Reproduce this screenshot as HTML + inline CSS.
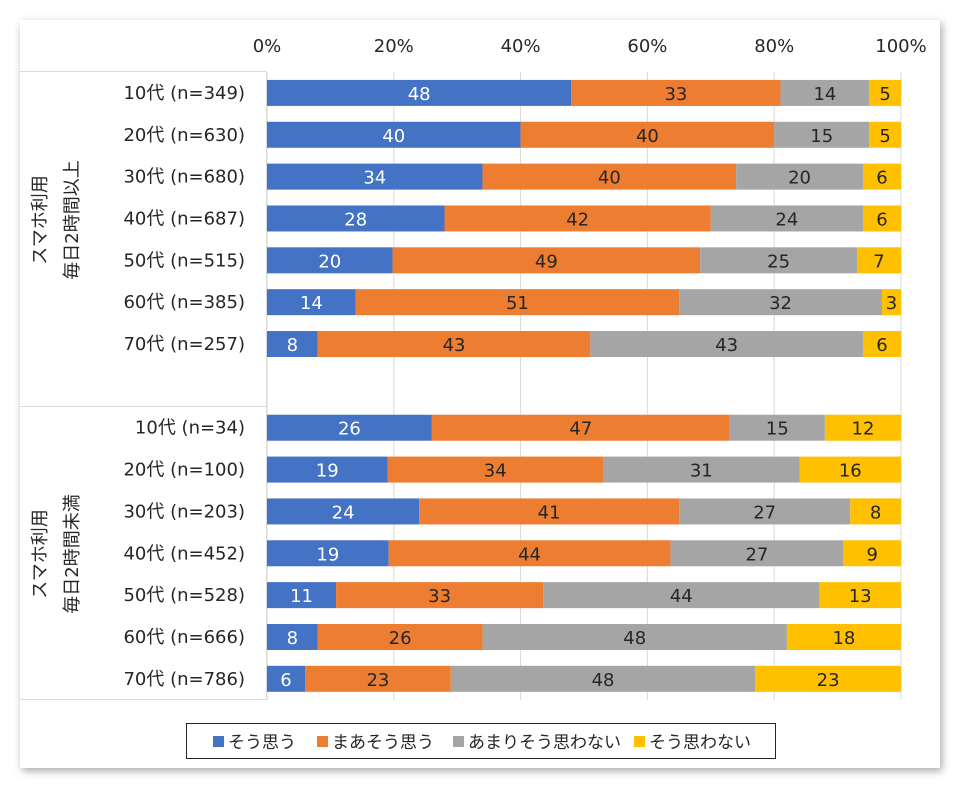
<!DOCTYPE html>
<html><head><meta charset="utf-8">
<style>
body{margin:0;background:#fff;font-family:"DejaVu Sans","Noto Sans CJK JP",sans-serif;}
#frame{position:absolute;left:20px;top:20px;width:920px;height:748px;background:#fff;box-shadow:2px 3px 8px rgba(0,0,0,0.35);}
svg{position:absolute;left:0;top:0;font-family:"DejaVu Sans","Noto Sans CJK JP",sans-serif;}
</style></head><body>
<div id="frame"></div>
<svg id="chart" width="960" height="790"></svg>
<script>
const categories=["10代 (n=349)","20代 (n=630)","30代 (n=680)","40代 (n=687)","50代 (n=515)","60代 (n=385)","70代 (n=257)",null,"10代 (n=34)","20代 (n=100)","30代 (n=203)","40代 (n=452)","50代 (n=528)","60代 (n=666)","70代 (n=786)"];
const seriesNames=["そう思う","まあそう思う","あまりそう思わない","そう思わない"];
const s1=[48,40,34,28,20,14,8,null,26,19,24,19,11,8,6];
const s2=[33,40,40,42,49,51,43,null,47,34,41,44,33,26,23];
const s3=[14,15,20,24,25,32,43,null,15,31,27,27,44,48,48];
const s4=[5,5,6,6,7,3,6,null,12,16,8,9,13,18,23];
const ticks=[0,20,40,60,80,100];
const colors=["#4472c4","#ed7d31","#a5a5a5","#ffc000"];
const labelColors=["#fff","#262626","#262626","#262626"];
const NS="http://www.w3.org/2000/svg";
const svg=document.getElementById('chart');
const x0=267,x1=901,top0=72,rowH=41.85,barH=26;
const xs=v=>x0+(x1-x0)*v/100;
const yc=i=>top0+rowH*(i+0.5);
function mk(t,a,p){const e=document.createElementNS(NS,t);for(const k in a)e.setAttribute(k,a[k]);(p||svg).appendChild(e);return e;}
ticks.forEach(t=>{
 const g=mk('line',{x1:xs(t),x2:xs(t),y1:72,y2:700,stroke:'#d9d9d9','stroke-width':1});
 
 
 const tx=mk('text',{x:xs(t),y:52,'text-anchor':'middle','font-size':18,fill:'#262626'});
 tx.textContent=t+'%';
 
 
});
[[20,71.5,266.5,71.5],[20,406.5,266.5,406.5],[20,699.5,266.5,699.5],[266.5,71.5,266.5,699.5]].forEach(l=>{
 const e=mk('line',{x1:l[0],y1:l[1],x2:l[2],y2:l[3],stroke:'#d9d9d9','stroke-width':1});
 
 
});
const series=[s1,s2,s3,s4];
categories.forEach((c,i)=>{
 if(c===null)return;
 const lab=mk('text',{x:245,y:yc(i)+6,'text-anchor':'end','font-size':18,fill:'#262626'});
 lab.textContent=c;
 
 
 const tot=series.reduce((a,s)=>a+s[i],0);
 let acc=0;
 series.forEach((s,k)=>{
  const v=s[i]*100/tot;
  const r=mk('rect',{x:xs(acc),y:yc(i)-barH/2,width:xs(acc+v)-xs(acc),height:barH,fill:colors[k]});
  
  
  const t=mk('text',{x:(xs(acc)+xs(acc+v))/2,y:yc(i)+7,'text-anchor':'middle','font-size':18,fill:labelColors[k]});
  t.textContent=s[i];
  
  
  acc+=v;
 });
});
function glabel(txt,x,y){const t=mk('text',{x:x,y:y,'text-anchor':'middle','font-size':18,fill:'#262626',transform:`rotate(-90 ${x} ${y})`});t.textContent=txt;}
glabel('スマホ利用',46,220);glabel('毎日2時間以上',78,220);
glabel('スマホ利用',46,554);glabel('毎日2時間未満',78,554);
const lg=mk('rect',{x:186.5,y:723.5,width:589,height:35,fill:'#fff',stroke:'#262626','stroke-width':1});


const lx=[213,317,453,634];
seriesNames.forEach((n,k)=>{
 const sw=mk('rect',{x:lx[k],y:736,width:11,height:11,fill:colors[k]});
 
 
 const t=mk('text',{x:lx[k]+15,y:748,'font-size':17,fill:'#262626'});
 t.textContent=n;
 
 
});
</script>
</body></html>
